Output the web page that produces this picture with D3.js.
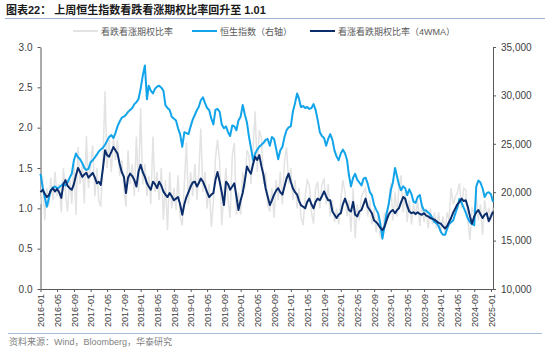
<!DOCTYPE html>
<html>
<head>
<meta charset="utf-8">
<script src="https://cdn.jsdelivr.net/npm/d3@7"></script>
<style>
  body { margin: 0; background: #fff; }
  svg { display: block; }
</style>
</head>
<body>
<div id="chart"></div>
<script>
// Hang Seng index, semi-monthly readings from the picture (right axis)
const hsi = [
  21900, 20600, 19500, 18500, 19300, 20200, 20500, 20600, 20400, 20500, 20700, 20900,
  20700, 21000, 21500, 21900, 23300, 24000, 23600, 23400, 23000, 22500, 22300, 22400,
  23100, 23300, 23600, 23900, 24200, 24400, 24600, 24900, 25300, 25700, 25900, 25600,
  26100, 26800, 27300, 27700, 27800, 28000, 28300, 28500, 28700, 29100, 29300, 29600,
  30700, 32000, 33100, 29600, 31000, 30500, 30200, 30700, 30900, 31000, 30800, 30500,
  29000, 28700, 28500, 27800, 27600, 27400, 26600, 26000, 24700, 26200, 26100, 26000,
  26800, 27500, 28000, 28500, 28800, 29500, 29800, 29200, 28700, 28500, 27600, 27000,
  28500, 28600, 28300, 27000, 26600, 26800, 26200, 25800, 26900, 26800, 26400, 27400,
  27800, 29000, 28000, 27200, 25800, 24600, 23300, 24000, 24400, 24700, 24900, 25100,
  25400, 25500, 24800, 25700, 25500, 24500, 23400, 24300, 24700, 25700, 26400, 26700,
  26800, 28300, 29200, 30200, 29700, 28800, 28900, 28700, 28800, 28600, 28700, 29100,
  28500, 27500, 26200, 25800, 25600, 24800, 25500, 26000, 25400, 24300, 23700, 23300,
  24000, 24400, 24000, 23300, 21800, 20600, 21500, 21900, 21300, 21000, 20700, 21400,
  21500, 20900, 20000, 19700, 18700, 18200, 17800, 16800, 15200, 16500, 17800, 18700,
  20200, 21000, 22500, 21600, 20800, 20200, 20600, 20400, 19700, 20300, 19800, 19000,
  18900, 19500, 19700, 18600, 18100, 18100, 17900, 17700, 17300, 16900, 16800, 16500,
  15900, 15600, 15600, 16200, 16700, 16900, 17100, 17800, 18400, 19300, 18900, 18400,
  17900, 17300, 16900, 16700, 16600, 20600, 21200, 21000, 20400, 19500, 19900, 20000,
  19800, 19000
];

// put/call ratio, 4-week moving average (left axis)
const pcr4w = [
  1.20, 1.23, 1.18, 1.14, 1.16, 1.22, 1.25, 1.21, 1.24, 1.20, 1.13, 1.30,
  1.35, 1.28, 1.25, 1.23, 1.30, 1.41, 1.50, 1.45, 1.39, 1.42, 1.44, 1.38,
  1.41, 1.44, 1.38, 1.31, 1.33, 1.29, 1.50, 1.72, 1.66, 1.64, 1.70, 1.76,
  1.72, 1.68, 1.55, 1.45, 1.39, 1.19, 1.38, 1.43, 1.40, 1.35, 1.27, 1.45,
  1.54, 1.45, 1.39, 1.31, 1.27, 1.23, 1.33, 1.30, 1.25, 1.33, 1.28, 1.21,
  1.17, 1.14, 1.19, 1.15, 1.10, 1.12, 1.14, 1.05, 0.92, 1.05, 1.14, 1.20,
  1.27, 1.32, 1.33, 1.27, 1.31, 1.37, 1.33, 1.27, 1.20, 1.14, 1.17, 1.19,
  1.35, 1.45, 1.33, 1.20, 1.04, 1.33, 1.30, 1.23, 1.27, 1.31, 1.15, 0.98,
  1.10, 1.19, 1.35, 1.52, 1.47, 1.43, 1.55, 1.64, 1.60, 1.66, 1.52, 1.41,
  1.25, 1.15, 1.04, 1.10, 1.17, 1.22, 1.25, 1.20, 1.17, 1.27, 1.37, 1.43,
  1.33, 1.25, 1.20, 1.17, 1.10, 1.04, 1.02, 1.00, 1.08, 1.12, 1.05, 1.00,
  1.08, 1.12, 1.10, 1.15, 1.21, 1.15, 1.10, 1.10, 0.96, 0.92, 0.88, 0.92,
  0.94, 1.05, 1.12, 1.05, 0.98, 0.96, 1.08, 0.92, 0.90, 0.96, 0.98, 1.05,
  1.12, 1.02, 0.98, 0.94, 0.85, 0.83, 0.80, 0.76, 0.73, 0.77, 0.85, 0.92,
  0.96, 0.98, 0.94, 0.98, 1.00, 1.07, 1.14, 1.12, 1.03, 0.96, 0.94, 0.95,
  0.93, 0.95, 0.93, 0.92, 0.94, 0.91, 0.90, 0.88, 0.87, 0.86, 0.84, 0.82,
  0.81, 0.78, 0.75, 0.78, 0.83, 0.88, 0.95, 1.00, 1.05, 1.08, 1.12, 1.09,
  1.10, 1.02, 0.90, 0.81, 0.90, 0.95, 0.98, 0.93, 0.88, 0.92, 0.94, 0.84,
  0.90, 0.96
];

// put/call ratio, raw (left axis)
const pcr = [
  1.05, 1.40, 0.85, 1.25, 1.02, 1.38, 1.10, 1.45, 1.15, 1.30, 0.95, 1.50,
  1.20, 0.96, 1.40, 1.05, 1.55, 0.92, 1.76, 1.30, 1.55, 1.06, 1.90, 1.25,
  1.55, 1.78, 1.15, 1.50, 1.10, 1.02, 1.60, 2.45, 1.50, 1.85, 1.45, 1.90,
  1.60, 1.85, 1.40, 1.60, 1.25, 1.02, 1.72, 1.30, 1.55, 1.15, 1.89, 1.20,
  2.24, 1.30, 1.55, 1.15, 1.40, 1.05, 1.89, 1.20, 1.45, 1.10, 1.50, 0.86,
  1.35, 0.73, 1.45, 1.00, 1.25, 0.98, 1.41, 0.90, 0.79, 1.30, 1.82, 1.05,
  1.45, 1.15, 1.55, 1.10, 1.40, 1.99, 1.20, 1.45, 1.00, 1.30, 0.77, 1.08,
  1.62, 1.85, 1.58, 0.79, 1.20, 1.50, 1.10, 0.88, 1.66, 1.81, 0.92, 1.20,
  0.92, 1.45, 1.25, 1.72, 1.66, 1.30, 1.75, 2.20, 1.45, 1.97, 1.87, 1.30,
  1.45, 1.04, 0.96, 1.25, 0.88, 1.35, 1.10, 1.45, 1.05, 1.58, 1.76, 1.30,
  1.50, 1.10, 1.35, 1.00, 1.25, 0.90, 0.79, 1.15, 1.35, 1.29, 0.95, 0.81,
  1.25, 1.33, 1.00, 1.30, 1.36, 1.05, 1.30, 0.90, 1.10, 0.83, 1.00, 0.80,
  1.10, 1.35, 1.20, 0.90, 1.10, 0.71, 1.25, 0.63, 1.05, 0.85, 1.15, 1.20,
  1.25, 0.90, 1.10, 0.80, 1.00, 0.70, 0.95, 0.65, 0.63, 0.95, 0.80, 1.05,
  1.31, 0.85, 1.20, 0.90, 1.25, 1.41, 0.95, 1.20, 0.83, 1.10, 0.80, 1.05,
  0.90, 1.10, 0.78, 1.05, 0.83, 1.00, 0.75, 1.00, 0.80, 0.95, 0.75, 0.95,
  0.70, 0.90, 0.71, 0.95, 0.85, 1.25, 1.05, 1.14, 1.20, 1.31, 1.00, 1.25,
  1.23, 0.85, 0.61, 1.00, 0.95, 1.15, 0.85, 1.05, 0.67, 1.10, 0.90, 1.00,
  0.85, 1.01
];

const leftTicks = [0, 0.5, 1.0, 1.5, 2.0, 2.5, 3.0];
const rightTicks = [10000, 15000, 20000, 25000, 30000, 35000];
const seriesNames = ["看跌看涨期权比率", "恒生指数（右轴）", "看涨看跌期权比率（4WMA）"];
const titleText = "图表22： 上周恒生指数看跌看涨期权比率回升至 1.01";
const sourceText = "资料来源：Wind，Bloomberg，华泰研究";

// one reading on the 1st and 16th of every month from Jan 2016
const dates = [];
for (let i = 0; i < hsi.length; i++) {
  dates.push(new Date(2016, Math.floor(i / 2), i % 2 ? 16 : 1));
}

const W = 550, H = 352;
const plot = { left: 40.5, right: 493, top: 47, bottom: 289 };
const font = "'Liberation Sans', Arial, 'Noto Sans CJK SC', sans-serif";
const colors = { pcr: "#e3e3e3", hsi: "#12a4ea", pcr4w: "#0b2d6b", axis: "#595959", text: "#404040" };

const svg = d3.select("#chart").append("svg")
  .attr("width", W)
  .attr("height", H)
  .style("font-family", font);

// title + rules
svg.append("text")
  .attr("x", 6)
  .attr("y", 14)
  .attr("font-size", "11px")
  .attr("font-weight", "bold")
  .attr("fill", "#1a1a1a")
  .attr("xml:space", "preserve")
  .text(titleText);

svg.append("line")
  .attr("x1", 5).attr("x2", 545)
  .attr("y1", 18.5).attr("y2", 18.5)
  .attr("stroke", "#9fb4d4");

svg.append("line")
  .attr("x1", 8).attr("x2", 542)
  .attr("y1", 333.5).attr("y2", 333.5)
  .attr("stroke", "#a8bfdc");

svg.append("text")
  .attr("x", 9)
  .attr("y", 345)
  .attr("font-size", "9px")
  .attr("fill", "#7f7f7f")
  .text(sourceText);

// scales
const x = d3.scaleTime()
  .domain([dates[0], dates[dates.length - 1]])
  .range([plot.left, plot.right]);
const yL = d3.scaleLinear().domain([0, 3]).range([plot.bottom, plot.top]);
const yR = d3.scaleLinear().domain([10000, 35000]).range([plot.bottom, plot.top]);

// axes
const xAxis = svg.append("g")
  .attr("transform", `translate(0,${plot.bottom})`)
  .call(d3.axisBottom(x)
    .ticks(d3.timeMonth.every(4))
    .tickFormat(d3.timeFormat("%Y-%m"))
    .tickSize(3)
    .tickSizeOuter(0));
xAxis.selectAll("text")
  .attr("transform", "rotate(-90)")
  .attr("x", -5)
  .attr("y", 0)
  .attr("dy", "0.35em")
  .style("text-anchor", "end")
  .attr("font-size", "9px")
  .attr("fill", colors.text);

const leftAxis = svg.append("g")
  .attr("transform", `translate(${plot.left},0)`)
  .call(d3.axisLeft(yL).tickValues(leftTicks).tickFormat(d3.format(".1f")).tickSize(3).tickPadding(5).tickSizeOuter(0));
leftAxis.selectAll("text").attr("font-size", "10px").attr("fill", colors.text);

const rightAxis = svg.append("g")
  .attr("transform", `translate(${plot.right},0)`)
  .call(d3.axisRight(yR).tickValues(rightTicks).tickFormat(d3.format(",")).tickSize(3).tickPadding(5).tickSizeOuter(0));
rightAxis.selectAll("text").attr("font-size", "10px").attr("fill", colors.text);

svg.selectAll(".domain, .tick line").attr("stroke", colors.axis);

// lines
const lineL = d3.line().x((d, i) => x(dates[i])).y(d => yL(d));
const lineR = d3.line().x((d, i) => x(dates[i])).y(d => yR(d));

svg.append("path")
  .datum(pcr)
  .attr("d", lineL)
  .attr("fill", "none")
  .attr("stroke", colors.pcr)
  .attr("stroke-width", 1.5);

svg.append("path")
  .datum(hsi)
  .attr("d", lineR)
  .attr("fill", "none")
  .attr("stroke", colors.hsi)
  .attr("stroke-width", 2)
  .attr("stroke-linejoin", "round");

svg.append("path")
  .datum(pcr4w)
  .attr("d", lineL)
  .attr("fill", "none")
  .attr("stroke", colors.pcr4w)
  .attr("stroke-width", 2)
  .attr("stroke-linejoin", "round");

// legend
const legendX = [73, 192, 310];
const legendColors = [colors.pcr, colors.hsi, colors.pcr4w];
const legend = svg.append("g").attr("transform", "translate(0,31)");
seriesNames.forEach(function(name, i) {
  legend.append("line")
    .attr("x1", legendX[i]).attr("x2", legendX[i] + 25)
    .attr("y1", 0).attr("y2", 0)
    .attr("stroke", legendColors[i])
    .attr("stroke-width", 2);
  legend.append("text")
    .attr("x", legendX[i] + 28)
    .attr("y", 3.5)
    .attr("font-size", "9px")
    .attr("fill", "#595959")
    .text(name);
});
</script>
</body>
</html>
